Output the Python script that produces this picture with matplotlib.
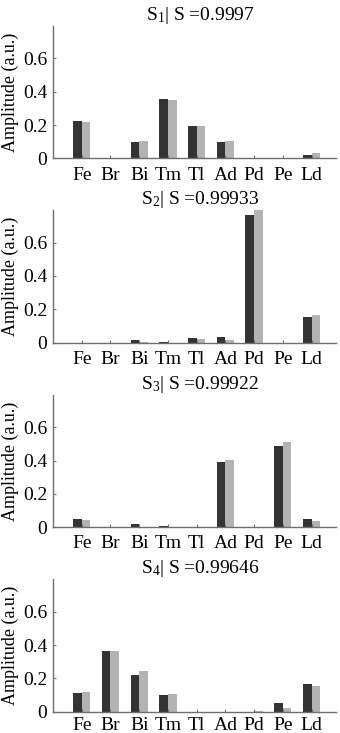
import matplotlib
matplotlib.use("Agg")
import matplotlib.pyplot as plt
import numpy as np

plt.rcParams['font.family'] = ['Liberation Serif', 'DejaVu Serif']
plt.rcParams['mathtext.fontset'] = 'custom'
plt.rcParams['mathtext.rm'] = 'Liberation Serif'
plt.rcParams['mathtext.it'] = 'Liberation Serif'
plt.rcParams['mathtext.default'] = 'rm'

categories = ["Fe", "Br", "Bi", "Tm", "Tl", "Ad", "Pd", "Pe", "Ld"]
titles = ["S$_1$| S =0.9997", "S$_2$| S =0.99933", "S$_3$| S =0.99922", "S$_4$| S =0.99646"]

s1_dark = [0.222, 0.0, 0.100, 0.354, 0.194, 0.096, 0.0, 0.0, 0.022]
s1_light = [0.220, 0.0, 0.102, 0.348, 0.192, 0.106, 0.0, 0.0, 0.030]
s2_dark = [0.0, 0.0, 0.018, 0.002, 0.026, 0.036, 0.764, 0.0, 0.154]
s2_light = [0.0, 0.0, 0.003, 0.0, 0.020, 0.014, 0.794, 0.0, 0.168]
s3_dark = [0.050, 0.0, 0.018, 0.004, 0.0, 0.394, 0.0, 0.486, 0.046]
s3_light = [0.040, 0.0, 0.002, 0.0, 0.0, 0.404, 0.0, 0.514, 0.036]
s4_dark = [0.110, 0.362, 0.218, 0.098, 0.0, 0.0, 0.0, 0.052, 0.164]
s4_light = [0.116, 0.362, 0.244, 0.106, 0.0, 0.0, 0.002, 0.020, 0.154]

dark = [s1_dark, s2_dark, s3_dark, s4_dark]
light = [s1_light, s2_light, s3_light, s4_light]

W, H = 340, 733
fig = plt.figure(figsize=(W / 100, H / 100), dpi=100)

tops = [26, 210, 395, 579.3]
bottoms = [158.3, 342.7, 527, 711.7]
left_px, right_px = 53, 336

x = np.arange(1, len(categories) + 1)
bw = 0.30
spine_col = '#6e6e6e'
fs = 14

for i in range(4):
    ax = fig.add_axes([left_px / W, 1 - bottoms[i] / H, (right_px - left_px) / W,
                       (bottoms[i] - tops[i]) / H])
    ax.bar(x - bw / 2, dark[i], width=bw, color='#333333', linewidth=0)
    ax.bar(x + bw / 2, light[i], width=bw, color='#b3b3b3', linewidth=0)
    ax.set_xlim(0, 9.85)
    ax.set_ylim(0, 0.795)
    ax.set_xticks(x)
    ax.set_xticklabels(categories, fontsize=fs)
    ax.set_yticks([0, 0.2, 0.4, 0.6])
    ax.set_yticklabels(["0", "0.2", "0.4", "0.6"], fontsize=fs)
    ax.tick_params(direction='in', length=2.5, width=0.8, color=spine_col)
    ax.tick_params(axis='x', pad=6 if i < 3 else 3.5)
    ax.tick_params(axis='y', pad=4)
    for s in ['top', 'right']:
        ax.spines[s].set_visible(False)
    for s in ['left', 'bottom']:
        ax.spines[s].set_color(spine_col)
        ax.spines[s].set_linewidth(1.0)
    ax.set_ylabel("Amplitude (a.u.)", fontsize=13)
    ax.yaxis.set_label_coords(-0.12, 0.5)
    ax.set_title(titles[i], fontsize=14, x=0.52, pad=4)

fig.savefig("out.png", dpi=100)
